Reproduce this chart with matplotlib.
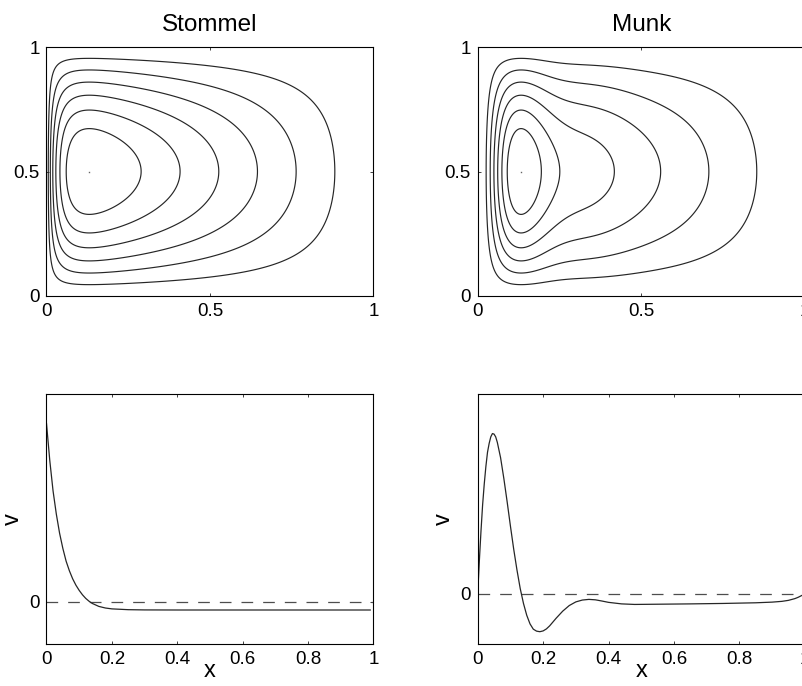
import numpy as np
import matplotlib
matplotlib.use('Agg')
import matplotlib.pyplot as plt

plt.rcParams['font.family'] = ['Liberation Sans', 'DejaVu Sans']
plt.rcParams['lines.scale_dashes'] = False

# Modelos (parametros)
titulos = ['Stommel', 'Munk']
delta_stommel = 0.041   # espessura da camada limite oeste
delta_munk = 0.0389
n_intervalos = 7        # niveis de contorno: psi_max * k / 7

x_stommel = [0, 0.01, 0.02, 0.03, 0.04, 0.05, 0.06, 0.07, 0.08, 0.09, 0.10,
             0.11, 0.12, 0.13, 0.14, 0.16, 0.18, 0.20, 0.25, 0.30, 0.40,
             0.50, 0.60, 0.70, 0.80, 0.90, 0.99]
v_stommel = [22.3, 17.7, 13.9, 11.0, 8.6, 6.7, 5.1, 3.9, 2.9, 2.1, 1.45,
             0.9, 0.45, 0.1, -0.18, -0.55, -0.75, -0.86, -0.96, -0.99, -1.0,
             -1.0, -1.0, -1.0, -1.0, -1.0, -1.0]

x_munk = [0, 0.005, 0.01, 0.015, 0.02, 0.025, 0.03, 0.035, 0.04, 0.045, 0.05,
          0.055, 0.06, 0.07, 0.08, 0.09, 0.10, 0.11, 0.12, 0.13, 0.14, 0.15,
          0.16, 0.17, 0.18, 0.19, 0.20, 0.21, 0.22, 0.24, 0.26, 0.28, 0.30,
          0.32, 0.34, 0.36, 0.38, 0.40, 0.44, 0.48, 0.55, 0.65, 0.75, 0.85,
          0.90, 0.93, 0.95, 0.97, 0.98, 0.99, 1.0]
v_munk = [0, 3.0, 5.7, 8.1, 10.0, 11.6, 12.9, 13.7, 14.3, 14.6, 14.55,
          14.3, 13.8, 12.4, 10.5, 8.4, 6.2, 4.1, 2.2, 0.5, -0.86, -1.94,
          -2.72, -3.2, -3.38, -3.43, -3.36, -3.18, -2.9, -2.2, -1.56, -1.05, -0.72,
          -0.55, -0.49, -0.53, -0.64, -0.76, -0.9, -0.95, -0.93, -0.9, -0.86, -0.8,
          -0.74, -0.67, -0.58, -0.42, -0.3, -0.15, 0.0]

perfis = [(x_stommel, v_stommel), (x_munk, v_munk)]
ylims = [(-5.25, 26.0), (-4.55, 18.2)]

# Campos de funcao de corrente
x = np.linspace(0, 1, 501)
y = np.linspace(0, 1, 501)
X, Y = np.meshgrid(x, y)
k = np.sqrt(3) / (2 * delta_munk)
psi_stommel = (1 - X - np.exp(-X / delta_stommel)) * np.sin(np.pi * Y)
psi_munk = (1 - X - np.exp(-X / (2 * delta_munk)) *
            (np.cos(k * X) + np.sin(k * X) / np.sqrt(3))) * np.sin(np.pi * Y)
campos = [psi_stommel, psi_munk]

fig = plt.figure(figsize=(8.03, 6.86), dpi=100)
W, H = 803, 686
largura = 327
lefts = [46.5, 477.7]


def estilo(ax):
    ax.tick_params(direction='in', top=True, right=True, length=2.5, width=0.7,
                   labelsize=13.5, pad=5, color='0.25')
    for s in ax.spines.values():
        s.set_linewidth(0.8)


for i in range(2):
    # contornos
    ax = fig.add_axes([lefts[i] / W, (H - 296) / H, largura / W, 249 / H])
    psi = campos[i]
    niveis = np.linspace(0, psi.max(), n_intervalos + 1)[1:-1]
    ax.contour(X, Y, psi, levels=niveis, colors='0.15', linewidths=0.85)
    jmax, imax = np.unravel_index(np.argmax(psi), psi.shape)
    ax.plot(x[imax], y[jmax], 's', ms=1.0, color='0.4', mec='none')
    ax.set_xlim(0, 1)
    ax.set_ylim(0, 1)
    ax.set_xticks([0, 0.5, 1])
    ax.set_yticks([0, 0.5, 1])
    ax.set_xticklabels(['0', '0.5', '1'])
    ax.set_yticklabels(['0', '0.5', '1'])
    ax.set_title(titulos[i], fontsize=17.5, pad=11.5)
    estilo(ax)

    # perfis de v
    ax = fig.add_axes([lefts[i] / W, (H - 644) / H, largura / W, 250 / H])
    xs, vs = perfis[i]
    ax.axhline(0, color='0.3', lw=0.9, dashes=(8.4, 7.2))
    ax.plot(xs, vs, color='0.15', lw=0.9)
    ax.set_xlim(0, 1)
    ax.set_ylim(*ylims[i])
    ax.set_xticks([0, 0.2, 0.4, 0.6, 0.8, 1])
    ax.set_xticklabels(['0', '0.2', '0.4', '0.6', '0.8', '1'])
    ax.set_yticks([0])
    ax.set_yticklabels(['0'])
    ax.set_xlabel('x', fontsize=17)
    ax.set_ylabel('v', fontsize=17)
    ax.xaxis.set_label_coords(0.5, -0.063)
    ax.yaxis.set_label_coords(-0.07, 0.5)
    estilo(ax)

fig.savefig('out.png', dpi=100)
